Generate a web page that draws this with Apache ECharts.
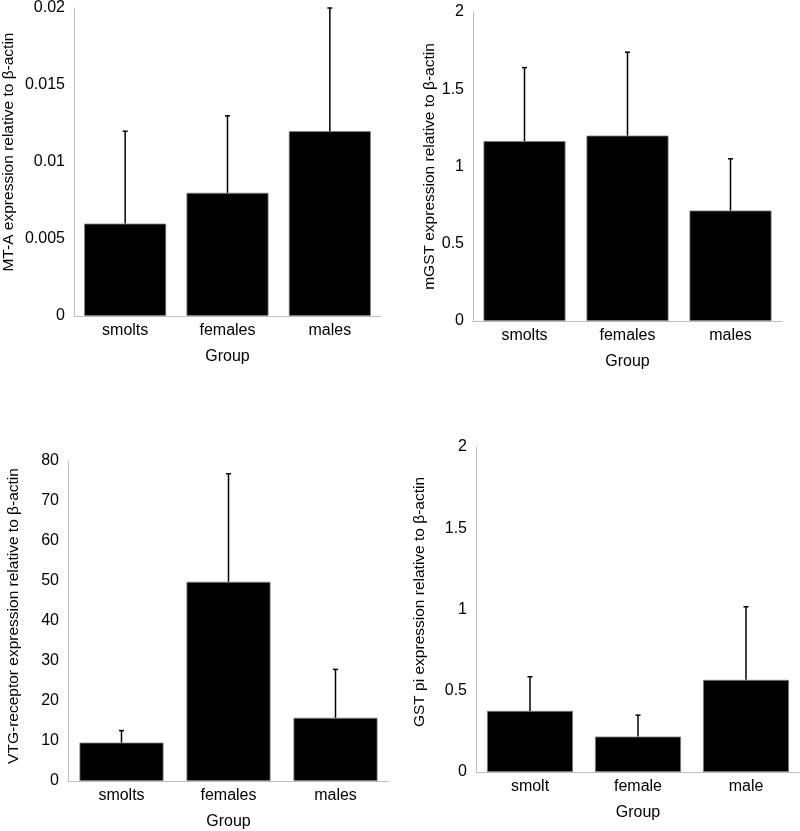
<!DOCTYPE html>
<html><head><meta charset="utf-8">
<script src="https://cdn.jsdelivr.net/npm/echarts@6/dist/echarts.min.js"></script>
<style>html,body{margin:0;padding:0;background:#fff}#c{width:800px;height:831px}</style>
</head><body><div id="c"></div>
<script>
// Panel A: MT-A
const catsA = ['smolts','females','males'];
const meanA = [0.006, 0.008, 0.012];
const errA  = [0.006, 0.005, 0.008];
const ticksA = [0, 0.005, 0.01, 0.015, 0.02];
// Panel B: mGST
const catsB = ['smolts','females','males'];
const meanB = [1.165, 1.2, 0.715];
const errB  = [0.475, 0.54, 0.335];
const ticksB = [0, 0.5, 1, 1.5, 2];
// Panel C: VTG-receptor
const catsC = ['smolts','females','males'];
const meanC = [9.6, 49.8, 15.8];
const errC  = [3.0, 27.0, 12.1];
const ticksC = [0,10,20,30,40,50,60,70,80];
// Panel D: GST pi
const catsD = ['smolt','female','male'];
const meanD = [0.376, 0.218, 0.567];
const errD  = [0.21, 0.132, 0.45];
const ticksD = [0, 0.5, 1, 1.5, 2];

const yNames = ['MT-A expression relative to \u03b2-actin','mGST expression relative to \u03b2-actin','VTG-receptor expression relative to \u03b2-actin','GST pi expression relative to \u03b2-actin'];
const panels = [
  {cats:catsA, mean:meanA, err:errA, ticks:ticksA, grid:{left:72,top:7,width:309,height:309}, bw:82, ng:57, pad:20},
  {cats:catsB, mean:meanB, err:errB, ticks:ticksB, grid:{left:473,top:12,width:309,height:309}, bw:82, ng:35, pad:0},
  {cats:catsC, mean:meanC, err:errC, ticks:ticksC, grid:{left:68,top:461,width:321,height:320}, bw:84, ng:46, pad:10},
  {cats:catsD, mean:meanD, err:errD, ticks:ticksD, grid:{left:476,top:447,width:324,height:325}, bw:86, ng:48, pad:15}
];
const FONT = 'Liberation Sans, Arial, sans-serif';
const option = {animation:false, grid:[], xAxis:[], yAxis:[], series:[]};
panels.forEach((p,i)=>{
  option.grid.push(Object.assign({containLabel:false}, p.grid));
  option.xAxis.push({type:'category', gridIndex:i, data:p.cats,
    axisLine:{show:true, lineStyle:{color:'#bfbfbf', width:1}}, axisTick:{show:false},
    axisLabel:{color:'#000', fontSize:16, fontFamily:FONT, margin:7},
    name:'Group', nameLocation:'middle', nameGap:33,
    nameTextStyle:{color:'#000', fontSize:16, fontFamily:FONT}});
  const t = p.ticks;
  option.yAxis.push({type:'value', gridIndex:i, min:t[0], max:t[t.length-1], interval:t[1]-t[0],
    axisLine:{show:true, lineStyle:{color:'#bfbfbf', width:1}}, axisTick:{show:false}, splitLine:{show:false},
    axisLabel:{color:'#000', fontSize:16, fontFamily:FONT, margin:9},
    name:yNames[i], nameLocation:'middle', nameGap:p.ng,
    nameTextStyle:{color:'#000', fontSize:15.5, fontFamily:FONT, padding:[0,0,0,p.pad]}});
  option.series.push({type:'bar', xAxisIndex:i, yAxisIndex:i, data:p.mean, barWidth:p.bw,
    itemStyle:{color:'#000', borderColor:'#808080', borderWidth:0.8}});
  option.series.push({type:'custom', xAxisIndex:i, yAxisIndex:i, z:5,
    data:p.mean.map((m,k)=>[k, m, m+p.err[k]]),
    renderItem:(params, api)=>{
      const x = api.value(0);
      const lo = api.coord([x, api.value(1)]);
      const hi = api.coord([x, api.value(2)]);
      const st = {stroke:'#000', lineWidth:1.5};
      return {type:'group', children:[
        {type:'line', shape:{x1:lo[0], y1:lo[1], x2:hi[0], y2:hi[1]}, style:st},
        {type:'line', shape:{x1:hi[0]-2.5, y1:hi[1], x2:hi[0]+2.5, y2:hi[1]}, style:st}
      ]};
    }});
});
const chart = echarts.init(document.getElementById('c'), null, {renderer:'canvas'});
chart.setOption(option);
</script></body></html>
